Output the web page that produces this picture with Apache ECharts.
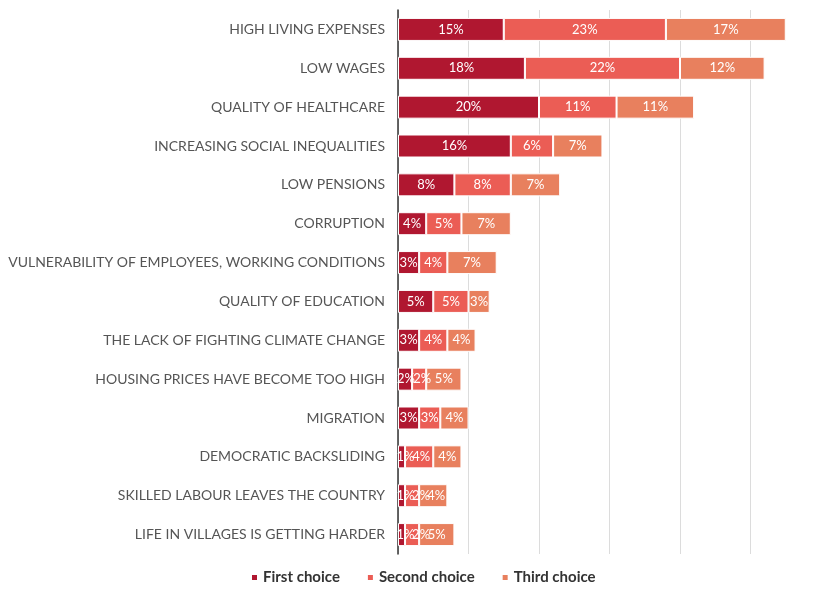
<!DOCTYPE html>
<html>
<head>
<meta charset="utf-8">
<script src="https://cdn.jsdelivr.net/npm/echarts@6/dist/echarts.min.js"></script>
<style>html,body{margin:0;padding:0;background:#fff}#c{width:821px;height:590px}</style>
</head>
<body>
<div id="c"></div>
<script>
const categories = [
  "HIGH LIVING EXPENSES",
  "LOW WAGES",
  "QUALITY OF HEALTHCARE",
  "INCREASING SOCIAL INEQUALITIES",
  "LOW PENSIONS",
  "CORRUPTION",
  "VULNERABILITY OF EMPLOYEES, WORKING CONDITIONS",
  "QUALITY OF EDUCATION",
  "THE LACK OF FIGHTING CLIMATE CHANGE",
  "HOUSING PRICES HAVE BECOME TOO HIGH",
  "MIGRATION",
  "DEMOCRATIC BACKSLIDING",
  "SKILLED LABOUR LEAVES THE COUNTRY",
  "LIFE IN VILLAGES IS GETTING HARDER"
];
const firstChoice  = [15, 18, 20, 16, 8, 4, 3, 5, 3, 2, 3, 1, 1, 1];
const secondChoice = [23, 22, 11, 6, 8, 5, 4, 5, 4, 2, 3, 4, 2, 2];
const thirdChoice  = [17, 12, 11, 7, 7, 7, 7, 3, 4, 5, 4, 4, 4, 5];
const seriesNames = ["First choice", "Second choice", "Third choice"];
const colors = ["#B01730", "#EB5D55", "#E8805E"];

const chart = echarts.init(document.getElementById('c'), null, {renderer: 'canvas'});
const font = "Lato, 'Open Sans', sans-serif";
function bars(name, data, color) {
  return {
    name: name, type: 'bar', stack: 'total', data: data,
    barWidth: 23, barGap: '-100%',
    itemStyle: {color: color, borderColor: '#ffffff', borderWidth: 1},
    label: {show: false},
    emphasis: {disabled: true}, z: 2
  };
}
// nudge overflowing labels of very narrow segments so they sit side by side
function nudge(k, idx) {
  const f = firstChoice[idx], s = secondChoice[idx], t = thirdChoice[idx];
  if (k === 0) {
    if (f <= 1) return 4;
    if (f <= 2) return 1;
  }
  if (k === 1) {
    if (f <= 1) return s <= 2 ? 9 : 2;
    if (s <= 2) return 3;
  }
  if (k === 2 && f <= 1 && s <= 2 && t <= 4) return 3;
  return 0;
}
function labels(data, k) {
  return {
    type: 'bar', stack: 'labels', data: data,
    barWidth: 23, barGap: '-100%',
    itemStyle: {color: 'rgba(0,0,0,0)'},
    label: {show: true, position: 'inside', color: '#ffffff', fontFamily: font, fontSize: 13,
      overflow: 'none', formatter: p => p.value + '%'},
    labelLayout: p => ({dx: nudge(k, p.dataIndex), hideOverlap: false}),
    emphasis: {disabled: true}, z: 5, silent: true
  };
}
chart.setOption({
  animation: false,
  textStyle: {fontFamily: font},
  grid: {left: 398, top: 10, width: 428, height: 544, containLabel: false},
  legend: {
    bottom: 0, left: 245, itemWidth: 7, itemHeight: 7, itemGap: 26,
    icon: 'rect',
    textStyle: {fontFamily: font, fontWeight: 'bold', fontSize: 15, color: '#333'},
    data: seriesNames
  },
  xAxis: {
    type: 'value', min: 0, max: 60, interval: 10,
    axisLabel: {show: false}, axisTick: {show: false}, axisLine: {show: false},
    splitLine: {show: true, lineStyle: {color: '#dcdcdc', width: 1}}
  },
  yAxis: {
    type: 'category', inverse: true, data: categories,
    axisTick: {show: false},
    axisLine: {show: true, lineStyle: {color: '#333', width: 1.5}},
    axisLabel: {color: '#555', fontFamily: font, fontSize: 14, margin: 13}
  },
  series: [
    bars(seriesNames[0], firstChoice, colors[0]),
    bars(seriesNames[1], secondChoice, colors[1]),
    bars(seriesNames[2], thirdChoice, colors[2]),
    labels(firstChoice, 0),
    labels(secondChoice, 1),
    labels(thirdChoice, 2)
  ]
});
</script>
</body>
</html>
